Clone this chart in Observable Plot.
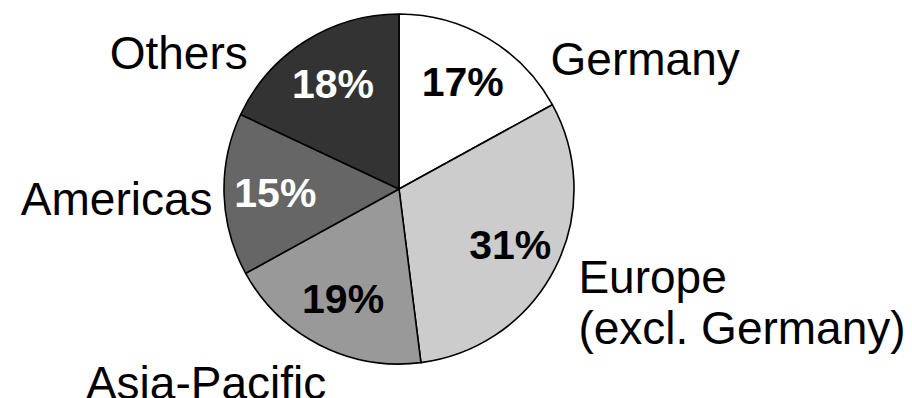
<!DOCTYPE html>
<html>
<head>
<meta charset="utf-8">
<script src="https://cdn.jsdelivr.net/npm/d3@7"></script>
<script src="https://cdn.jsdelivr.net/npm/@observablehq/plot@0.6"></script>
<style>
  html, body { margin: 0; padding: 0; background: #fff; }
  svg { display: block; }
</style>
</head>
<body>
<div id="chart"></div>
<script>
// ---- data ----
const categories = ["Germany", "Europe (excl. Germany)", "Asia-Pacific", "Americas", "Others"];
const shares = [17, 31, 19, 15, 18];
const displayLabels = ["Germany", "Europe\n(excl. Germany)", "Asia-Pacific", "Americas", "Others"];

// ---- styles ----
const sliceFills = ["#ffffff", "#cccccc", "#999999", "#666666", "#333333"];
const valueTextColors = ["#000000", "#000000", "#000000", "#ffffff", "#ffffff"];
const outerAnchors = ["start", "start", "middle", "end", "end"];
const outerLineAnchors = ["middle", "top", "middle", "middle", "middle"];
const outerDx = [62, 23, -114, -12, -58];
const outerDy = [20, -12, 37, 4, 11];
const FONT = "Liberation Sans, Arial, Helvetica, sans-serif";

// ---- layout via d3.pie (angles clockwise from 12 o'clock) ----
const table = categories.map((c, i) => ({category: c, value: shares[i], label: displayLabels[i], idx: i}));
const arcs = d3.pie().sort(null).value(d => d.value)(table);
const slices = arcs.map(a => {
  const mid = (a.startAngle + a.endAngle) / 2;
  return {...a.data, arc: a, sx: Math.sin(mid), sy: Math.cos(mid)};
});

function pieMark(index, scales) {
  const cx = scales.x(0), cy = scales.y(0);
  const r = scales.x(1) - cx;
  const arcGen = d3.arc().innerRadius(0).outerRadius(r);
  const g = d3.create("svg:g").attr("transform", `translate(${cx},${cy})`);
  g.selectAll("path")
    .data(arcs)
    .join("path")
    .attr("d", arcGen)
    .attr("fill", (d, i) => scales.color ? scales.color(d.data.category) : sliceFills[i])
    .attr("stroke", "#000")
    .attr("stroke-width", 1.6)
    .attr("stroke-linejoin", "round");
  return g.node();
}

const valueLabelR = 0.71;

const marks = [
  pieMark,
  Plot.text(slices, {
    x: d => d.sx * valueLabelR,
    y: d => d.sy * valueLabelR,
    text: d => `${d.value}%`,
    fill: d => valueTextColors[d.idx],
    fontSize: 41,
    fontWeight: "bold",
    fontFamily: FONT,
    textAnchor: "middle",
    lineAnchor: "middle"
  }),
  ...slices.map((s, i) => Plot.text([s], {
    x: d => d.sx,
    y: d => d.sy,
    text: d => d.label,
    fill: "#000",
    fontSize: 46,
    fontFamily: FONT,
    textAnchor: outerAnchors[i],
    lineAnchor: outerLineAnchors[i],
    lineHeight: 1.11,
    dx: outerDx[i],
    dy: outerDy[i]
  }))
];

const chart = Plot.plot({
  width: 912,
  height: 398,
  margin: 0,
  style: {fontFamily: FONT, background: "#fff", overflow: "visible"},
  x: {domain: [-1, 1], range: [224, 574], axis: null},
  y: {domain: [-1, 1], range: [364, 14], axis: null},
  color: {type: "ordinal", domain: categories, range: sliceFills},
  marks
});
document.getElementById("chart").appendChild(chart);
</script>
</body>
</html>
